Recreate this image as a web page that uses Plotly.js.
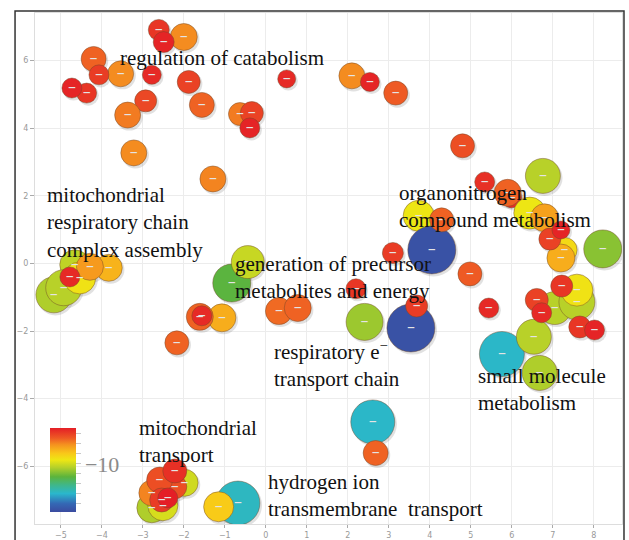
<!DOCTYPE html>
<html>
<head>
<meta charset="utf-8">
<script src="https://cdn.plot.ly/plotly-3.0.1.min.js"></script>
<style>html,body{margin:0;padding:0;background:#fff;}#chart{width:629px;height:540px;}</style>
</head>
<body>
<div id="chart"></div>
<script>
// GO term semantic-space coordinates (drawing order)
const termX = [
  -2.61, -2.00, -2.49, -4.20, -3.54, -4.07, -2.78, -4.37, -4.73, -1.88, -2.93, -3.37, -1.56, 0.51, -0.63, -0.34, -0.39, -3.22, -1.29, 2.10, 2.54, 3.17, 4.80,
  6.00, 5.90, 5.34, 6.76, 3.73, 4.05, 4.29, 3.10, 6.44, 6.80, 7.29, 7.20, 6.93, 7.20, 8.22,
  2.20, 2.41, 3.54, 3.68, 4.98, 5.44, 5.76, 6.54, 6.68, 7.05, 6.61, 6.73, 7.59, 7.59, 7.22, 7.66, 8.02,
  2.61, 2.68,
  -4.66, -3.83, -5.17, -4.93, -4.54, -4.29, -4.78,
  -0.83, -0.44, -1.07, -1.61, -1.56, 0.32, 0.78, -2.17,
  -2.78, -2.51, -1.98, -2.22, -2.78, -2.59, -2.22, -2.54, -2.39, -0.68, -1.15
];
const termY = [
  6.91, 6.70, 6.55, 6.05, 5.61, 5.58, 5.58, 5.04, 5.19, 5.37, 4.81, 4.39, 4.69, 5.46, 4.42, 4.45, 4.01, 3.27, 2.50, 5.55, 5.37, 5.04, 3.48,
  1.94, 2.09, 2.41, 2.59, 1.41, 0.40, 1.29, 0.31, 1.49, 1.35, 0.40, 0.16, 0.72, 0.99, 0.43,
  -0.75, -1.73, -1.91, -1.26, -0.31, -1.32, -2.68, -2.17, -3.24, -1.32, -1.08, -1.46, -1.14, -0.79, -0.67, -1.88, -1.97,
  -4.69, -5.61,
  -0.04, -0.13, -0.93, -0.72, -0.43, -0.10, -0.40,
  -0.58, 0.04, -1.61, -1.58, -1.55, -1.41, -1.32, -2.35,
  -7.23, -7.17, -6.49, -6.61, -6.79, -6.41, -6.14, -7.00, -6.94, -7.09, -7.20
];
// log10 p-value (colour)
const logP = [
  -6.8, -8.0, -6.5, -7.5, -8.0, -6.9, -6.6, -6.8, -6.5, -7.0, -7.1, -7.8, -7.5, -6.6, -7.8, -7.0, -6.5, -8.0, -7.9, -8.0, -6.5, -7.4, -7.2,
  -6.6, -7.5, -6.7, -10.3, -9.6, -14.6, -7.5, -6.9, -9.6, -8.3, -9.3, -8.5, -7.0, -6.5, -10.8,
  -6.8, -10.6, -14.6, -6.9, -7.4, -6.6, -12.9, -10.3, -10.4, -10.3, -7.0, -6.6, -10.3, -9.5, -6.8, -6.8, -6.5,
  -12.9, -7.5,
  -10.2, -8.6, -10.4, -10.3, -9.5, -8.2, -6.6,
  -11.3, -10.1, -8.5, -7.5, -6.6, -7.6, -7.5, -7.5,
  -10.4, -9.9, -10.0, -7.2, -7.9, -7.2, -6.7, -6.9, -6.4, -12.8, -9.0
];
// term frequency (bubble size)
const termSize = [
  21, 27, 21, 25, 26, 20, 19, 20, 20, 23, 22, 26, 25, 18, 23, 23, 20, 26, 26, 26, 19, 24, 24,
  20, 27, 20, 35, 31, 48, 24, 21, 32, 28, 25, 28, 22, 18, 38,
  20, 37, 48, 22, 24, 20, 45, 35, 35, 33, 23, 20, 36, 32, 22, 22, 20,
  44, 25,
  30, 27, 36, 36, 32, 27, 20,
  38, 33, 28, 27, 20, 27, 27, 24,
  30, 30, 27, 24, 26, 26, 24, 24, 20, 44, 30
];

const clusterLabels = [
  "regulation of catabolism",
  "mitochondrial<br>respiratory chain<br>complex assembly",
  "organonitrogen<br>compound metabolism",
  "generation of precursor<br>metabolites and energy",
  "respiratory e<sup>−</sup><br>transport chain",
  "small molecule<br>metabolism",
  "mitochondrial<br>transport",
  "hydrogen ion<br>transmembrane  transport"
];
const labelX = [-3.61, -5.39, 3.20, -0.80, 0.15, 5.12, -3.15, 0.0];
const labelY = [6.08, 1.20, 1.67, -0.41, -2.99, -3.73, -5.28, -6.86];

const cbTicks = [-14, -13, -12, -11, -10, -9, -8, -7];
const cbTickText = [" ", " ", " ", " ", "−10", " ", " ", " "];

const scale = [
  [0, '#3b4ba0'], [0.1, '#3468b5'], [0.22, '#2ab7cc'], [0.32, '#3fb78a'],
  [0.42, '#5cb43c'], [0.53, '#b4d02a'], [0.62, '#eee614'], [0.7, '#f9c719'],
  [0.8, '#f5931f'], [0.88, '#ee5a24'], [1, '#e41e26']
];

// soft drop shadow under each bubble (same data, small pixel offset)
const shadow = {
  type: 'scatter', mode: 'markers',
  x: termX.map(v => v + 0.04),
  y: termY.map(v => v - 0.06),
  hoverinfo: 'skip', showlegend: false,
  marker: {size: termSize.map(s => s + 1), sizemode: 'diameter', color: 'rgba(60,60,60,0.22)', line: {width: 0}}
};

const trace = {
  type: 'scatter',
  mode: 'markers+text',
  x: termX,
  y: termY,
  text: termX.map(() => '–'),
  textposition: 'middle center',
  textfont: {color: '#e4e4e4', size: 16, family: 'DejaVu Sans'},
  hoverinfo: 'skip',
  marker: {
    size: termSize,
    sizemode: 'diameter',
    color: logP,
    cmin: -14.8,
    cmax: -6.4,
    colorscale: scale,
    opacity: 1,
    line: {width: 1, color: 'rgba(110,70,40,0.45)'},
    colorbar: {
      x: 0.0256, xanchor: 'left', xpad: 0,
      y: 0.106, yanchor: 'middle', ypad: 0,
      len: 84, lenmode: 'pixels',
      thickness: 26, thicknessmode: 'pixels',
      outlinewidth: 0,
      tickmode: 'array', tickvals: cbTicks, ticktext: cbTickText,
      ticks: 'outside', ticklen: 5, tickcolor: '#c8c8c8', tickwidth: 1,
      tickfont: {family: 'Liberation Serif', size: 22, color: '#8a8a8a'}
    }
  },
  showlegend: false
};

const annotations = clusterLabels.map((t, i) => ({
  x: labelX[i], y: labelY[i], xref: 'x', yref: 'y',
  text: t, showarrow: false, xanchor: 'left', yanchor: 'middle', align: 'left',
  font: {family: 'Liberation Serif', size: 21, color: '#111111'}
}));

const axisCommon = {
  showgrid: true, gridcolor: '#ececec', gridwidth: 1,
  zeroline: false,
  showline: true, mirror: true, linecolor: '#dddddd', linewidth: 1,
  ticks: 'outside', ticklen: 3, tickcolor: '#aaaaaa', tickwidth: 1,
  tickfont: {family: 'DejaVu Sans', size: 8, color: '#999999'},
  dtick: 1
};

const layout = {
  width: 629, height: 540,
  margin: {l: 35, r: 7, t: 13, b: 16},
  paper_bgcolor: '#ffffff', plot_bgcolor: '#ffffff',
  xaxis: Object.assign({}, axisCommon, {range: [-5.63, 8.69], tickvals: [-5,-4,-3,-2,-1,0,1,2,3,4,5,6,7,8]}),
  yaxis: Object.assign({}, axisCommon, {range: [-7.71, 7.41], tickvals: [-6,-4,-2,0,2,4,6], ticklen: 4}),
  annotations: annotations,
  shapes: [{
    type: 'rect', xref: 'paper', yref: 'paper',
    x0: -0.034, x1: 1.0034, y0: -0.2, y1: 1.0039,
    line: {color: '#333333', width: 1.5}, fillcolor: 'rgba(0,0,0,0)', layer: 'below'
  }]
};

Plotly.newPlot('chart', [shadow, trace], layout, {displayModeBar: false, staticPlot: true});
</script>
</body>
</html>
